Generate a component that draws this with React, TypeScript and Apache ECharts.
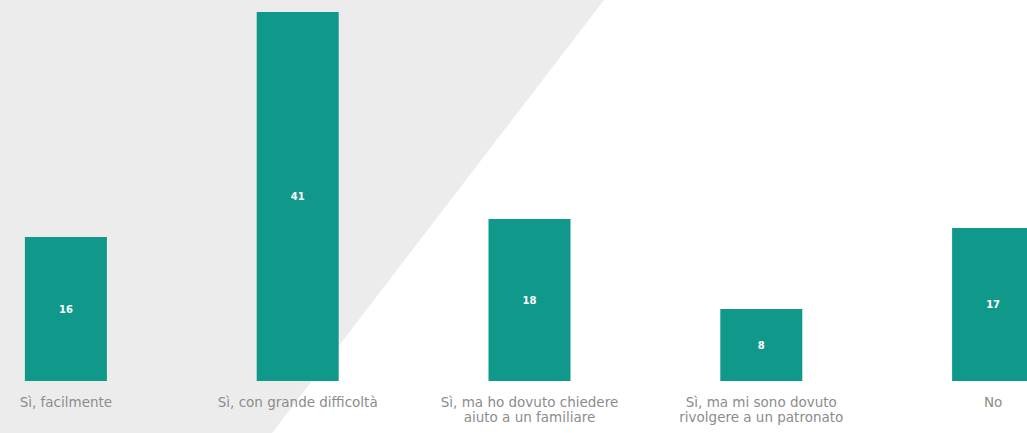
import React, { useEffect, useRef } from "react";
import * as echarts from "echarts";

const categories = [
  "Sì, facilmente",
  "Sì, con grande difficoltà",
  "Sì, ma ho dovuto chiedere\naiuto a un familiare",
  "Sì, ma mi sono dovuto\nrivolgere a un patronato",
  "No",
];
const values = [16, 41, 18, 8, 17];

const OFFSET = 50;

export default function App() {
  const ref = useRef<HTMLDivElement>(null);
  useEffect(() => {
    if (!ref.current) return;
    const chart = echarts.init(ref.current, null, { renderer: "svg" });
    chart.setOption({
      animation: false,
      backgroundColor: "#ffffff",
      graphic: [
        {
          type: "polygon",
          z: -10,
          silent: true,
          shape: {
            points: [
              [0, 0],
              [604 + OFFSET, 0],
              [272 + OFFSET, 433],
              [0, 433],
            ],
          },
          style: { fill: "#ececec" },
        },
      ],
      grid: { left: 0, right: 0, top: 12, bottom: 52, containLabel: false },
      xAxis: {
        type: "category",
        data: categories,
        axisLine: { show: false },
        axisTick: { show: false },
        axisLabel: {
          interval: 0,
          color: "#8c8c8c",
          fontSize: 13.5,
          lineHeight: 15,
          margin: 13,
          fontFamily: "DejaVu Sans",
        },
      },
      yAxis: {
        type: "value",
        min: 0,
        max: 41,
        show: false,
        splitLine: { show: false },
      },
      series: [
        {
          type: "bar",
          data: values,
          barWidth: 82,
          itemStyle: { color: "#10998b" },
          label: {
            show: true,
            position: "inside",
            color: "#ffffff",
            fontWeight: "bold",
            fontSize: 10,
            fontFamily: "DejaVu Sans",
          },
        },
      ],
    });
    return () => chart.dispose();
  }, []);
  return (
    <div
      style={{
        position: "fixed",
        left: 0,
        top: 0,
        width: 1027,
        height: 433,
        overflow: "hidden",
        background: "#ffffff",
      }}
    >
      <div
        ref={ref}
        style={{ position: "absolute", left: -OFFSET, top: 0, width: 1159, height: 433 }}
      />
    </div>
  );
}
